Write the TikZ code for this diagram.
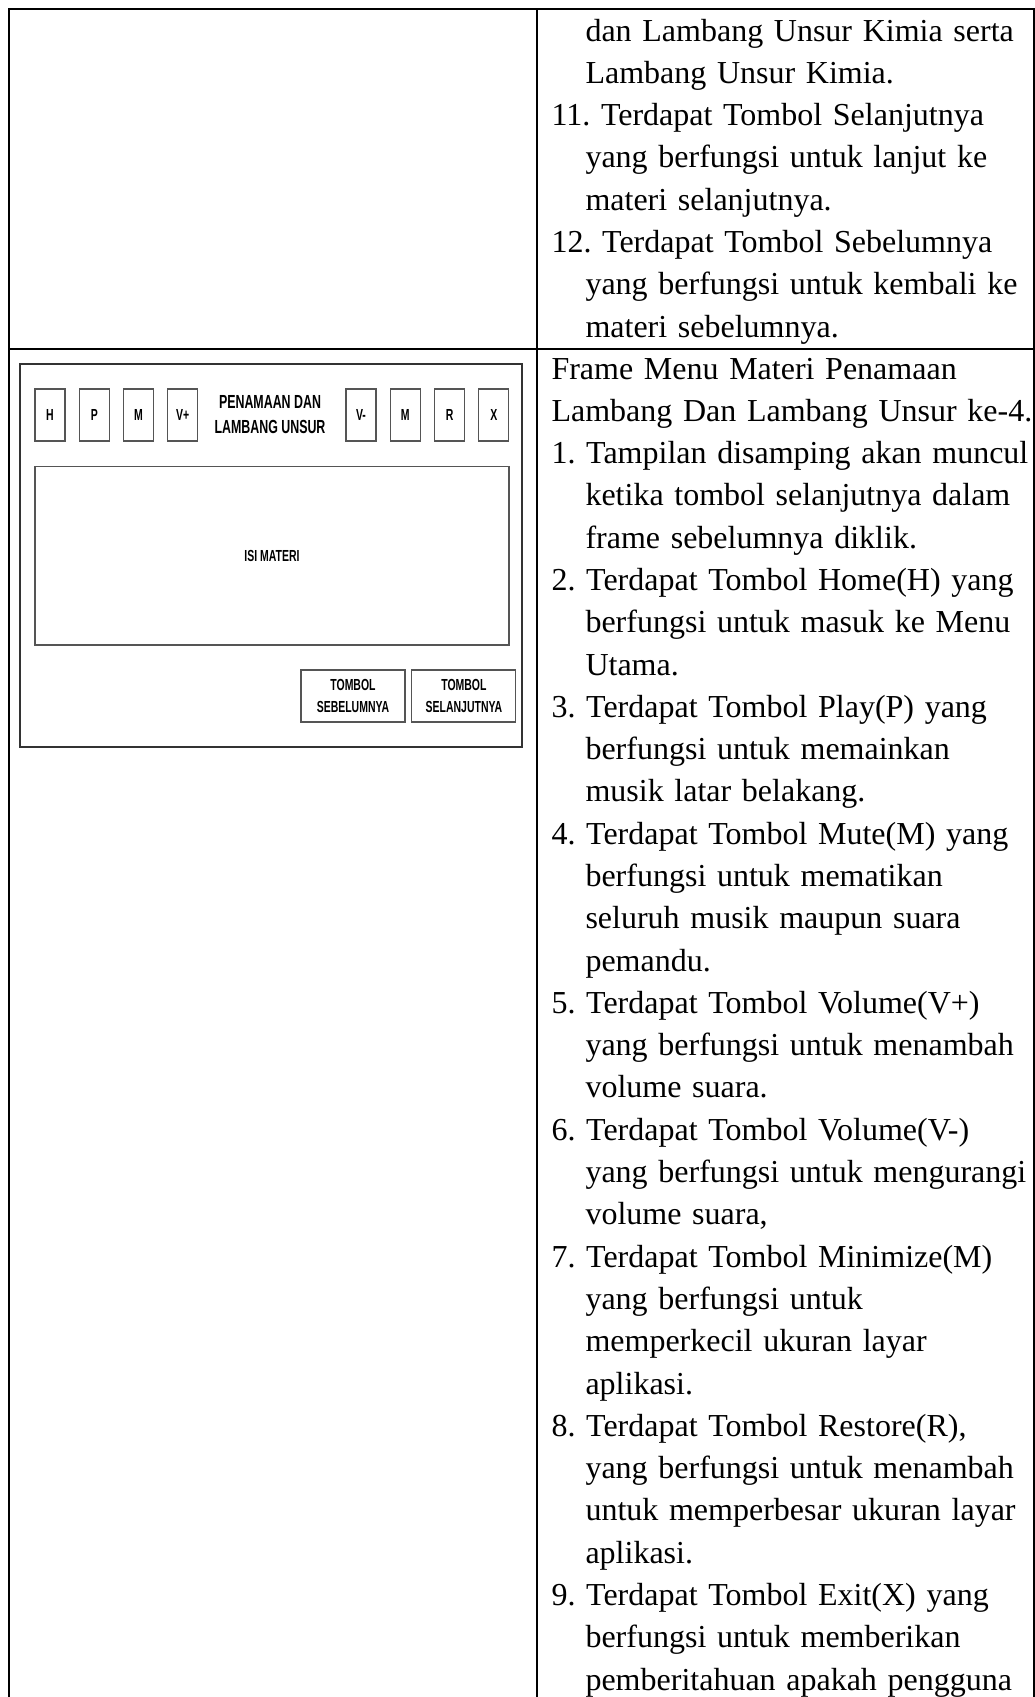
\documentclass[tikz,border=0pt]{standalone}
\usepackage{fontspec}
\setmainfont{Liberation Serif}
\newfontfamily\wirefont[FakeStretch=0.655]{Liberation Sans}
\usetikzlibrary{positioning}
\definecolor{garis}{HTML}{555555}
\definecolor{bingkai}{HTML}{333333}
\tikzstyle{garistabel}=[line width=0.75pt,black]
\tikzstyle{tombol}=[draw=garis,line width=0.4pt,minimum width=11.25pt,minimum height=19.5pt,inner sep=0pt,font=\wirefont\bfseries\fontsize{6}{7}\selectfont]
\tikzstyle{tombolbawah}=[tombol,minimum width=39pt,align=center,font=\wirefont\bfseries\fontsize{6}{8.6}\selectfont]
\tikzstyle{judul}=[align=center,inner sep=0pt,font=\wirefont\bfseries\fontsize{7.1}{9.4}\selectfont]
\tikzstyle{kotakisi}=[draw=garis,line width=0.4pt,minimum width=177.75pt,minimum height=67.1pt,inner sep=0pt,font=\wirefont\bfseries\fontsize{6}{7}\selectfont]
\tikzstyle{isi}=[text width=185pt,anchor=base west,inner sep=0pt,font=\fontsize{12}{15.86}\selectfont\frenchspacing]

\begin{document}
\begin{tikzpicture}[x=0.375pt,y=-0.375pt,node distance=16.6pt]
\useasboundingbox (0,0) rectangle (1035,1697);
\draw[garistabel] (9,1697) -- (9,9) -- (1035,9);
\draw[garistabel] (537,9) -- (537,1697);
\draw[garistabel] (1033.5,9) -- (1033.5,1697);
\draw[garistabel] (9,349) -- (1035,349);

\draw[bingkai,line width=0.6pt] (20,364) rectangle (522,747);
\node[tombol] (btnH)    at (50,415)        {H};
\node[tombol] (btnP)    [right of=btnH]    {P};
\node[tombol] (btnM)    [right of=btnP]    {M};
\node[tombol] (btnVtam) [right of=btnM]    {V+};
\node[judul]  (judul)   at (270,414.5)     {PENAMAAN DAN\\LAMBANG UNSUR};
\node[tombol] (btnVkur) at (361,415)       {V-};
\node[tombol] (btnMin)  [right of=btnVkur] {M};
\node[tombol] (btnR)    [right of=btnMin]  {R};
\node[tombol] (btnX)    [right of=btnR]    {X};
\node[kotakisi] (materi) at (272,555.5)    {ISI MATERI};
\node[tombolbawah] (sebelum) at (353,696)  {TOMBOL\\SEBELUMNYA};
\node[tombolbawah] (lanjut) [right of=sebelum,node distance=41.6pt] {TOMBOL\\SELANJUTNYA};

\node[isi] (teksatas) at (551,41) {\parindent=0pt
\hangindent=12.75pt\hangafter=0 dan Lambang Unsur Kimia serta\newline Lambang Unsur Kimia.\par
\hangindent=12.75pt\hangafter=1 11. Terdapat Tombol Selanjutnya\newline yang berfungsi untuk lanjut ke\newline materi selanjutnya.\par
\hangindent=12.75pt\hangafter=1 12. Terdapat Tombol Sebelumnya\newline yang berfungsi untuk kembali ke\newline materi sebelumnya.\par};

\node[isi] (teksbawah) at (551,379) {\parindent=0pt
Frame Menu Materi Penamaan\newline Lambang Dan Lambang Unsur ke-4.\par
\hangindent=12.75pt\hangafter=1 1. Tampilan disamping akan muncul\newline ketika tombol selanjutnya dalam\newline frame sebelumnya diklik.\par
\hangindent=12.75pt\hangafter=1 2. Terdapat Tombol Home(H) yang\newline berfungsi untuk masuk ke Menu\newline Utama.\par
\hangindent=12.75pt\hangafter=1 3. Terdapat Tombol Play(P) yang\newline berfungsi untuk memainkan\newline musik latar belakang.\par
\hangindent=12.75pt\hangafter=1 4. Terdapat Tombol Mute(M) yang\newline berfungsi untuk mematikan\newline seluruh musik maupun suara\newline pemandu.\par
\hangindent=12.75pt\hangafter=1 5. Terdapat Tombol Volume(V+)\newline yang berfungsi untuk menambah\newline volume suara.\par
\hangindent=12.75pt\hangafter=1 6. Terdapat Tombol Volume(V-)\newline yang berfungsi untuk mengurangi\newline volume suara,\par
\hangindent=12.75pt\hangafter=1 7. Terdapat Tombol Minimize(M)\newline yang berfungsi untuk\newline memperkecil ukuran layar\newline aplikasi.\par
\hangindent=12.75pt\hangafter=1 8. Terdapat Tombol Restore(R),\newline yang berfungsi untuk menambah\newline untuk memperbesar ukuran layar\newline aplikasi.\par
\hangindent=12.75pt\hangafter=1 9. Terdapat Tombol Exit(X) yang\newline berfungsi untuk memberikan\newline pemberitahuan apakah pengguna\par};
\end{tikzpicture}
\end{document}
